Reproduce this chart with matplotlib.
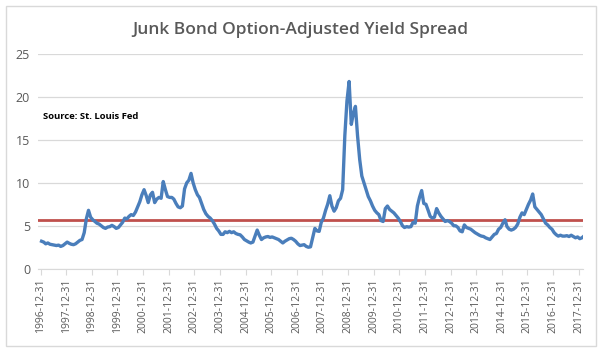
import numpy as np
import pandas as pd
import matplotlib
matplotlib.use("Agg")
import matplotlib.pyplot as plt
import matplotlib.dates as mdates
from matplotlib.patches import Rectangle

plt.rcParams['font.family'] = ['Open Sans', 'DejaVu Sans']

# monthly readings of the spread (%)
start = "1996-12"
spread = [
    3.2,
    3.1, 2.9, 3.0, 2.85, 2.8, 2.75, 2.7, 2.75, 2.6, 2.7, 2.9, 3.1,        # 1997
    2.95, 2.85, 2.8, 2.9, 3.1, 3.3, 3.4, 4.2, 5.8, 6.8, 6.0, 5.7,        # 1998
    5.5, 5.3, 5.2, 5.0, 4.8, 4.7, 4.85, 4.9, 5.05, 4.9, 4.7, 4.8,        # 1999
    5.1, 5.4, 5.9, 5.8, 6.1, 6.3, 6.2, 6.6, 7.2, 7.8, 8.6, 9.2,          # 2000
    8.5, 7.7, 8.6, 8.9, 7.7, 8.1, 8.3, 8.2, 10.15, 9.2, 8.4, 8.3,        # 2001
    8.3, 8.1, 7.6, 7.2, 7.1, 7.3, 9.3, 10.0, 10.3, 11.1, 10.0, 9.2,      # 2002
    8.6, 8.3, 7.6, 6.9, 6.4, 6.1, 5.9, 5.6, 5.2, 4.7, 4.4, 4.0,          # 2003
    4.0, 4.3, 4.2, 4.35, 4.2, 4.3, 4.1, 4.0, 3.95, 3.7, 3.4, 3.25,       # 2004
    3.1, 3.0, 3.1, 3.8, 4.5, 3.9, 3.4, 3.6, 3.7, 3.75, 3.65, 3.7,        # 2005
    3.6, 3.5, 3.4, 3.2, 3.0, 3.2, 3.35, 3.5, 3.55, 3.4, 3.2, 2.9,        # 2006
    2.7, 2.75, 2.8, 2.6, 2.5, 2.55, 3.6, 4.7, 4.4, 4.35, 5.4, 5.9,       # 2007
    6.8, 7.5, 8.5, 7.3, 6.7, 7.1, 7.9, 8.2, 9.2, 15.5, 19.5, 21.8,       # 2008
    16.8, 18.0, 18.9, 15.5, 12.7, 10.8, 10.0, 9.2, 8.4, 7.9, 7.3, 6.8,   # 2009
    6.5, 6.3, 5.6, 5.5, 7.0, 7.3, 6.9, 6.7, 6.5, 6.2, 5.9, 5.5,          # 2010
    5.0, 4.8, 4.9, 4.85, 4.9, 5.4, 5.3, 7.3, 8.3, 9.1, 7.6, 7.5,         # 2011
    6.8, 6.1, 5.9, 6.0, 7.0, 6.5, 6.1, 5.8, 5.5, 5.6, 5.5, 5.3,          # 2012
    5.0, 5.0, 4.8, 4.4, 4.3, 5.1, 4.8, 4.7, 4.6, 4.4, 4.2, 4.05,         # 2013
    3.9, 3.8, 3.75, 3.6, 3.5, 3.4, 3.7, 4.0, 4.1, 4.6, 4.8, 5.3,         # 2014
    5.7, 4.9, 4.6, 4.5, 4.6, 4.8, 5.2, 6.0, 6.5, 6.3, 6.9, 7.5,          # 2015
    8.0, 8.7, 7.2, 6.9, 6.6, 6.3, 5.8, 5.3, 5.1, 4.8, 4.6, 4.2,          # 2016
    3.95, 3.8, 3.9, 3.8, 3.8, 3.85, 3.75, 3.9, 3.75, 3.6, 3.7, 3.5,      # 2017
    3.6, 3.8,                                                            # 2018
]
average = 5.7
tick_years = list(range(1996, 2018))

dates = pd.date_range(start=start + "-15", periods=len(spread), freq="MS") + pd.Timedelta(days=14)
ticks = [pd.Timestamp(f"{y}-12-31") for y in tick_years]

fig = plt.figure(figsize=(6, 3.55), dpi=100)
ax = fig.add_axes([0.064, 0.243, 0.908, 0.605])

ax.plot(dates, spread, color="#4A7EBB", lw=2.4, solid_joinstyle="round", zorder=3)
ax.axhline(average, color="#C0504D", lw=2.0, zorder=2)

ax.set_ylim(0, 25)
ax.set_yticks([0, 5, 10, 15, 20, 25])
ax.set_xlim(pd.Timestamp("1996-12-01"), pd.Timestamp("2018-03-05"))
ax.set_xticks(ticks)
ax.xaxis.set_major_formatter(mdates.DateFormatter("%Y-%m-%d"))
ax.yaxis.grid(True, color="#D9D9D9", lw=0.9)
ax.set_axisbelow(True)
for s in ["top", "right", "left"]:
    ax.spines[s].set_visible(False)
ax.spines["bottom"].set_color("#D9D9D9")
ax.tick_params(axis="y", length=0, pad=6, labelsize=9, labelcolor="#595959")
ax.tick_params(axis="x", length=4, color="#D9D9D9", labelsize=7.5,
               labelcolor="#595959", rotation=90, pad=3)

fig.text(0.5, 0.915, "Junk Bond Option-Adjusted Yield Spread", ha="center", va="center",
         fontsize=12.5, color="#595959", fontweight="semibold")
ax.text(0.008, 0.707, "Source: St. Louis Fed", transform=ax.transAxes, fontsize=6.8,
        fontweight="bold", color="black", va="center")

fig.patches.append(Rectangle((6 / 600, 1 - 346 / 355), 590 / 600, 340 / 355,
                             transform=fig.transFigure, fill=False, ec="#D9D9D9", lw=1))

fig.savefig("out.png", dpi=100)
